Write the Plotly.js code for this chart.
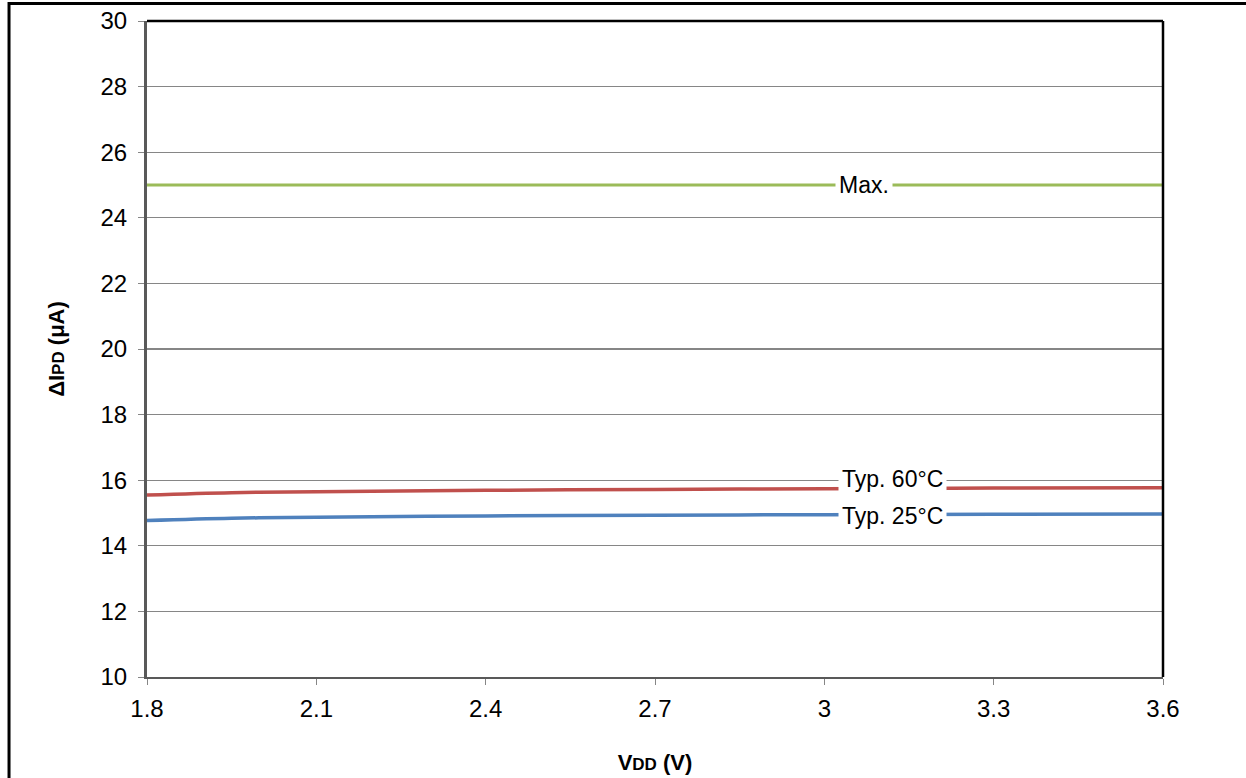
<!DOCTYPE html>
<html>
<head>
<meta charset="utf-8">
<script src="https://cdn.plot.ly/plotly-3.0.1.min.js"></script>
<style>
html,body{margin:0;padding:0;background:#fff;}
#chart{width:1246px;height:778px;}
</style>
</head>
<body>
<div id="chart"></div>
<script>
const vdd = [1.8, 1.95, 2.1, 2.4, 2.7, 3.0, 3.3, 3.6];
const typ60 = [15.55, 15.62, 15.65, 15.69, 15.72, 15.74, 15.76, 15.77];
const typ25 = [14.77, 14.84, 14.87, 14.91, 14.93, 14.95, 14.96, 14.97];
const maxVal = [25, 25, 25, 25, 25, 25, 25, 25];
const xTicks = [1.8, 2.1, 2.4, 2.7, 3.0, 3.3, 3.6];
const xTickText = ['1.8', '2.1', '2.4', '2.7', '3', '3.3', '3.6'];
const yTicks = [10, 12, 14, 16, 18, 20, 22, 24, 26, 28, 30];
const labels = [
  {text: 'Max.', x: 3.07, y: 25},
  {text: 'Typ. 60°C', x: 3.121, y: 16.05},
  {text: 'Typ. 25°C', x: 3.121, y: 14.92}
];

const font = 'Liberation Sans, Arial, sans-serif';
const traces = [
  {x: vdd, y: maxVal, mode: 'lines', line: {color: '#9BBB59', width: 3}, hoverinfo: 'skip'},
  {x: vdd, y: typ60, mode: 'lines', line: {color: '#C0504D', width: 3.5, shape: 'spline'}, hoverinfo: 'skip'},
  {x: vdd, y: typ25, mode: 'lines', line: {color: '#4F81BD', width: 3.5, shape: 'spline'}, hoverinfo: 'skip'}
];

const layout = {
  width: 1246, height: 778,
  margin: {l: 147, r: 83, t: 21, b: 101},
  paper_bgcolor: '#fff', plot_bgcolor: '#fff',
  showlegend: false,
  font: {family: font, size: 24, color: '#000'},
  xaxis: {
    range: [1.8, 3.6], tickvals: xTicks, ticktext: xTickText,
    showgrid: false, zeroline: false,
    showline: true, linecolor: '#595959', linewidth: 2,
    ticks: 'outside', ticklen: 6, tickcolor: '#868686', tickwidth: 1,
    ticklabelstandoff: 3,
    tickfont: {family: font, size: 24, color: '#000'},
    title: {text: '<b>V<span style="font-size:17px">DD</span> (V)</b>', font: {family: font, size: 22, color: '#000'}, standoff: 34}
  },
  yaxis: {
    range: [10, 30], tickvals: yTicks,
    showgrid: true, gridcolor: '#868686', gridwidth: 1.3, zeroline: false,
    showline: true, linecolor: '#595959', linewidth: 3,
    ticks: 'outside', ticklen: 6, tickcolor: '#868686', tickwidth: 1,
    ticklabelstandoff: 6,
    tickfont: {family: font, size: 24, color: '#000'},
    title: {text: '<b>ΔI<span style="font-size:17px">PD</span> (μA)</b>', font: {family: font, size: 22, color: '#000'}, standoff: 30}
  },
  shapes: [
    {type: 'line', xref: 'paper', yref: 'paper', x0: 0, x1: 1, y0: 1, y1: 1, line: {color: '#000', width: 2.5}},
    {type: 'line', xref: 'paper', yref: 'paper', x0: 1, x1: 1, y0: 0, y1: 1, line: {color: '#000', width: 2.5}},
    {type: 'rect', xref: 'paper', yref: 'paper', x0: -0.1358, x1: 1.2, y0: -0.3, y1: 1.0265, line: {color: '#000', width: 3}, fillcolor: 'rgba(0,0,0,0)', layer: 'below'}
  ],
  annotations: labels.map(l => ({
    x: l.x, y: l.y, xref: 'x', yref: 'y', text: l.text, showarrow: false,
    bgcolor: '#fff', borderpad: 3,
    font: {family: font, size: 23, color: '#000'}
  }))
};

Plotly.newPlot('chart', traces, layout, {displayModeBar: false, staticPlot: true});
</script>
</body>
</html>
